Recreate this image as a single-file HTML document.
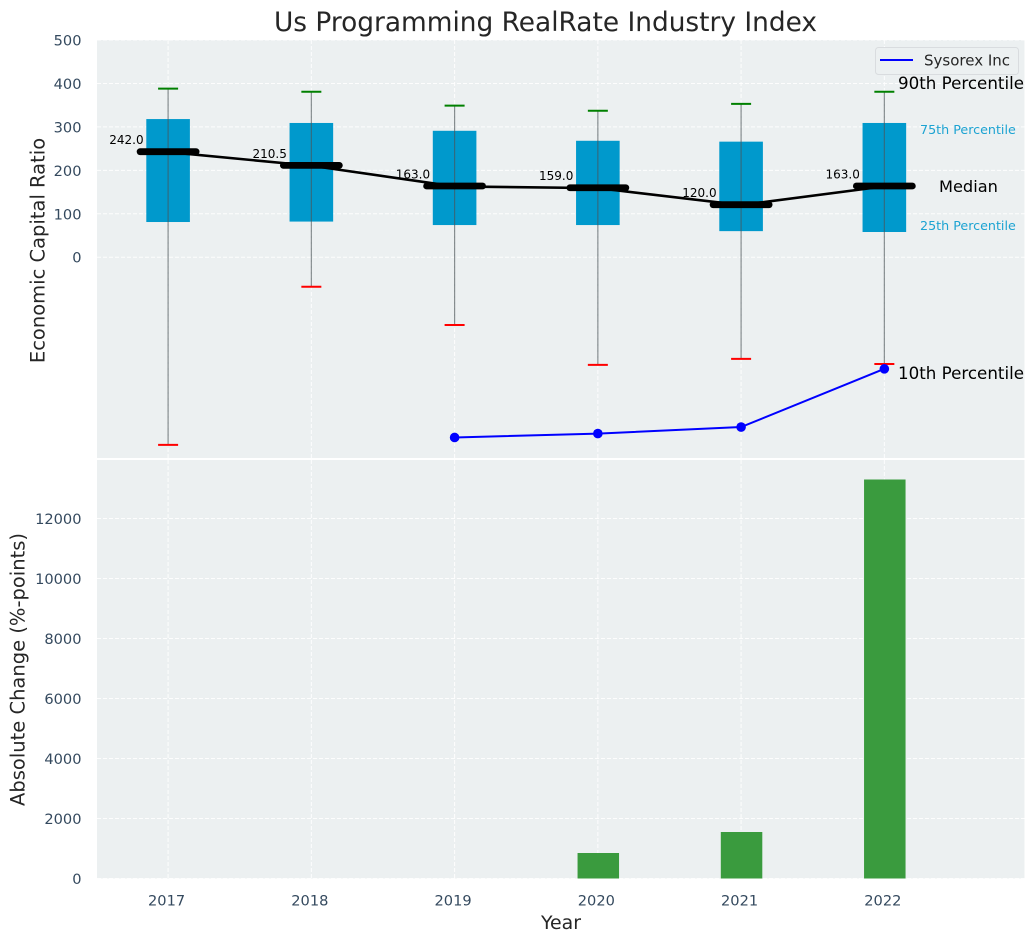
<!DOCTYPE html>
<html>
<head>
<meta charset="utf-8">
<title>Us Programming RealRate Industry Index</title>
<style>
html,body{margin:0;padding:0;background:#fff;width:1035px;height:942px;overflow:hidden}
svg{display:block;font-family:"DejaVu Sans","Liberation Sans",sans-serif}
</style>
</head>
<body>
<svg id="chart" width="1035" height="942" viewBox="0 0 1035 942" xmlns="http://www.w3.org/2000/svg">
  <text x="545.5" y="31" text-anchor="middle" font-size="26.4" fill="#262626">Us Programming RealRate Industry Index</text>
  <rect x="97" y="40" width="927.5" height="418" fill="#ecf0f1"/>
  <rect x="97" y="460" width="927.5" height="418.5" fill="#ecf0f1"/>
  <g id="grid"></g>
  <g id="bars"></g>
  <g id="boxes"></g>
  <g id="series"></g>
  <g id="ticks"></g>
  <text transform="translate(44.5,250.5) rotate(-90)" text-anchor="middle" font-size="19.5" fill="#262626">Economic Capital Ratio</text>
  <text transform="translate(24.5,669.5) rotate(-90)" text-anchor="middle" font-size="19.5" fill="#262626">Absolute Change (%-points)</text>
  <text x="561" y="929" text-anchor="middle" font-size="18.9" fill="#262626">Year</text>
  <g>
    <rect x="875.5" y="47.5" width="143" height="27" rx="3" fill="#ecf0f1" stroke="#d9dcdf" stroke-width="1"/>
    <line x1="880" y1="60" x2="913" y2="60" stroke="#0000ff" stroke-width="2"/>
    <text x="924" y="65.5" font-size="15" fill="#262626">Sysorex Inc</text>
  </g>
  <g>
    <text x="898" y="89" font-size="16.7" fill="#000">90th Percentile</text>
    <text x="920" y="134" font-size="12.7" fill="#1ca3d2">75th Percentile</text>
    <text x="939" y="192" font-size="16.2" fill="#000">Median</text>
    <text x="920" y="230" font-size="12.7" fill="#1ca3d2">25th Percentile</text>
    <text x="898" y="379" font-size="16.7" fill="#000">10th Percentile</text>
  </g>
</svg>
<script>
const years = [2017, 2018, 2019, 2020, 2021, 2022];
const p90 = [388, 381, 349, 337, 353, 381];
const p75 = [318, 309, 291, 268, 266, 309];
const medians = [242, 210.5, 163, 159, 120, 163];
const p25 = [81, 82, 74, 74, 60, 58];
const p10 = [-432, -68, -156, -248, -234, -246];
const companyYears = [2019, 2020, 2021, 2022];
const companyValues = [-415, -406, -391, -257];
const barYears = [2020, 2021, 2022];
const barValues = [850, 1550, 13300];
const topTicks = [0, 100, 200, 300, 400, 500];
const bottomTicks = [0, 2000, 4000, 6000, 8000, 10000, 12000];

const NS = 'http://www.w3.org/2000/svg';
const x = v => 168.1 + (v - 2017) * 143.25;
const yTop = v => 257.2 - v * 0.4344;
const yBottom = v => 878.5 - v * 0.03;

function mk(parent, tag, attrs, txt) {
  const el = document.createElementNS(NS, tag);
  for (const k in attrs) el.setAttribute(k, attrs[k]);
  if (txt !== undefined) el.textContent = txt;
  document.getElementById(parent).appendChild(el);
  return el;
}

years.forEach(yr => {
  const top = mk('grid', 'line', {x1: x(yr), x2: x(yr), y1: 40, y2: 458, stroke: '#fff', 'stroke-width': 1, 'stroke-dasharray': '4 2', opacity: 0.9});
  
  
  const bot = mk('grid', 'line', {x1: x(yr), x2: x(yr), y1: 460, y2: 878.5, stroke: '#fff', 'stroke-width': 1, 'stroke-dasharray': '4 2', opacity: 0.9});
  
  
  const t = mk('ticks', 'text', {x: x(yr) - 1.5, y: 905.5, 'text-anchor': 'middle', 'font-size': 14.6, fill: '#34495e'}, String(yr));
  
  
});

topTicks.forEach(v => {
  const g = mk('grid', 'line', {x1: 97, x2: 1024.5, y1: yTop(v), y2: yTop(v), stroke: '#fff', 'stroke-width': 1, 'stroke-dasharray': '4 2', opacity: 0.9});
  
  
  const t = mk('ticks', 'text', {x: 81.5, y: yTop(v) + 5.5, 'text-anchor': 'end', 'font-size': 14.6, fill: '#34495e'}, String(v));
  
  
});

bottomTicks.forEach(v => {
  const g = mk('grid', 'line', {x1: 97, x2: 1024.5, y1: yBottom(v), y2: yBottom(v), stroke: '#fff', 'stroke-width': 1, 'stroke-dasharray': '4 2', opacity: 0.9});
  
  
  const t = mk('ticks', 'text', {x: 81.5, y: yBottom(v) + 5.5, 'text-anchor': 'end', 'font-size': 14.6, fill: '#34495e'}, String(v));
  
  
});

barYears.forEach((yr, i) => {
  const b = mk('bars', 'rect', {x: x(yr) - 20.3, y: yBottom(barValues[i]), width: 41.5, height: yBottom(0) - yBottom(barValues[i]), fill: '#3a9b3e'});
  
  
});

years.forEach((yr, i) => {
  const box = mk('boxes', 'rect', {x: x(yr) - 21.8, y: yTop(p75[i]), width: 43.6, height: yTop(p25[i]) - yTop(p75[i]), fill: '#0099cc'});
  
  
  const w = mk('boxes', 'line', {x1: x(yr), x2: x(yr), y1: yTop(p90[i]), y2: yTop(p10[i]), stroke: '#4a5458', 'stroke-width': 1.2, opacity: 0.65});
  
  
  const hi = mk('boxes', 'line', {x1: x(yr) - 10, x2: x(yr) + 10, y1: yTop(p90[i]), y2: yTop(p90[i]), stroke: '#008000', 'stroke-width': 2});
  
  
  const lo = mk('boxes', 'line', {x1: x(yr) - 10, x2: x(yr) + 10, y1: yTop(p10[i]), y2: yTop(p10[i]), stroke: '#ff0000', 'stroke-width': 2});
  
  
});

const medLine = mk('series', 'polyline', {points: years.map((yr, i) => x(yr) + ',' + yTop(medians[i])).join(' '), fill: 'none', stroke: '#000', 'stroke-width': 2.6});



years.forEach((yr, i) => {
  const m = mk('series', 'line', {x1: x(yr) - 28, x2: x(yr) + 28, y1: yTop(medians[i]) - 0.4, y2: yTop(medians[i]) - 0.4, stroke: '#000', 'stroke-width': 6.8, 'stroke-linecap': 'round'});
  
  
  const t = mk('series', 'text', {x: x(yr) - 24.5, y: yTop(medians[i]) - 8, 'text-anchor': 'end', 'font-size': 12, fill: '#000'}, medians[i].toFixed(1));
  
  
});

const compLine = mk('series', 'polyline', {points: companyYears.map((yr, i) => x(yr) + ',' + yTop(companyValues[i])).join(' '), fill: 'none', stroke: '#0000ff', 'stroke-width': 2});



companyYears.forEach((yr, i) => {
  const c = mk('series', 'circle', {cx: x(yr), cy: yTop(companyValues[i]), r: 4.8, fill: '#0000ff'});
  
  
});
</script>
</body>
</html>
